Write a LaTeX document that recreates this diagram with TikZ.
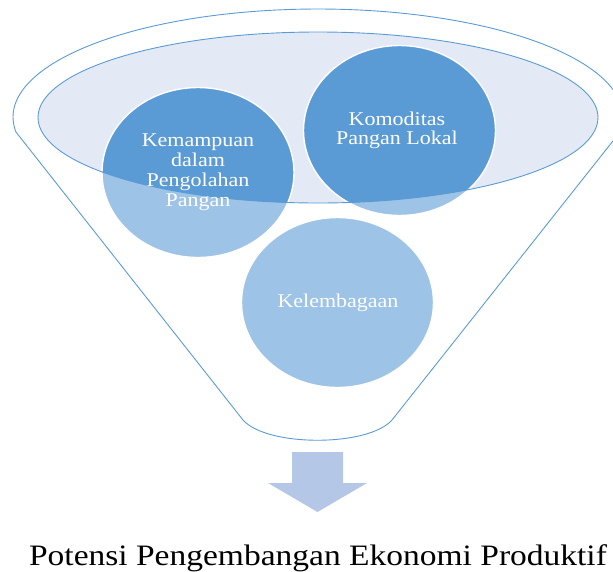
\documentclass[tikz,border=0pt]{standalone}
\usepackage{fontspec}
\setmainfont{Liberation Serif}
\usepackage{graphicx}
\definecolor{edgeblue}{HTML}{5B9BD5}
\definecolor{darkball}{HTML}{5B9BD5}
\definecolor{lightball}{HTML}{9DC3E6}
\definecolor{bowlfill}{HTML}{E3EAF6}
\definecolor{arrowfill}{HTML}{B4C7E7}
\newcommand\sqz[1]{\scalebox{1}[0.885]{#1}}
\tikzset{
  outline/.style={draw=edgeblue, line width=0.9pt},
  ballrim/.style={draw=white, line width=1.4pt},
  balltext/.style={text=white, inner sep=0pt, font=\fontsize{22}{22.3}\selectfont},
}
\begin{document}
\begin{tikzpicture}[x=1pt,y=-1pt]
\useasboundingbox (0,0) rectangle (613,571);
% funnel body
\draw[outline, line join=round]
  plot[domain=172:368, samples=120] ({318+305*cos(\x)},{117+108*sin(\x)})
  -- (392,420) .. controls (368,447) and (267,447) .. (243,420) -- cycle;
% inner bowl
\coordinate (bowl) at (318,117.5);
\fill[bowlfill] (bowl) ellipse [x radius=280pt, y radius=85.5pt];
% balls
\coordinate (b1) at (198,172.5);
\coordinate (b2) at (399.5,130.5);
\coordinate (b3) at (337.5,302.5);
\foreach \c in {b1,b2,b3}
  \fill[lightball] (\c) ellipse [x radius=96pt, y radius=85pt];
\begin{scope}
  \clip (bowl) ellipse [x radius=280pt, y radius=85.5pt];
  \foreach \c in {b1,b2,b3}
    \fill[darkball] (\c) ellipse [x radius=96pt, y radius=85pt];
\end{scope}
\foreach \c in {b1,b2,b3}
  \draw[ballrim] (\c) ellipse [x radius=96pt, y radius=85pt];
\draw[outline] (bowl) ellipse [x radius=280pt, y radius=85.5pt];
% texts
\node[balltext] (t1) at (198,172.5) {\sqz{\begin{tabular}{@{}c@{}}Kemampuan\\dalam\\Pengolahan\\Pangan\end{tabular}}};
\node[balltext] (t2) at (397,131) {\sqz{\begin{tabular}{@{}c@{}}Komoditas\\Pangan Lokal\end{tabular}}};
\node[balltext] (t3) at (338,302.5) {\sqz{Kelembagaan}};
% arrow
\fill[arrowfill] (292,452) -- (343,452) -- (343,483) -- (367,483) -- (317.5,512) -- (268,483) -- (292,483) -- cycle;
% title
\node[anchor=base, inner sep=0pt, font=\fontsize{33.5}{36}\selectfont] (title) at (318,565) {\sqz{Potensi Pengembangan Ekonomi Produktif}};
\end{tikzpicture}
\end{document}
